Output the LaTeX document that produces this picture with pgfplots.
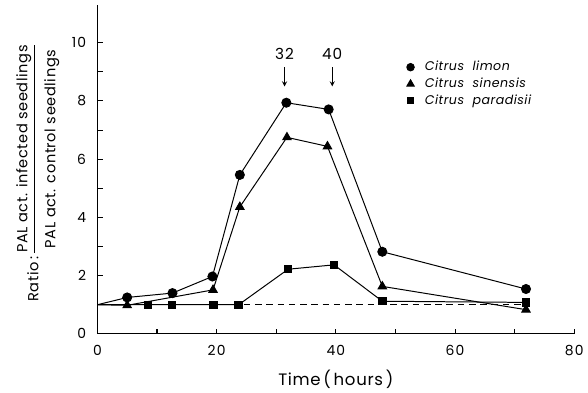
\documentclass[border=0pt]{standalone}
\usepackage{amsmath}
\usepackage{fontspec}
\setmainfont{Poppins}
\usepackage{pgfplots}
\pgfplotsset{compat=1.18}
\begin{document}
\begin{tikzpicture}
\begin{axis}[
  at={(0,0)}, anchor=origin,
  scale only axis, width=360pt, height=248.3pt,
  xmin=0, xmax=80, ymin=0, ymax=11.3,
  axis lines*=left,
  axis line style={line width=0.8pt},
  xtick={0,20,...,80}, minor xtick={10,30,50,70},
  ytick={0,2,...,10}, minor ytick={1,3,5,7,9},
  tick align=inside,
  major tick length=4pt, minor tick length=4pt,
  tick style={line width=0.8pt, black},
  /pgf/number format/assume math mode=true,
  tick label style={font=\fontsize{10.5}{11}\selectfont\addfontfeatures{LetterSpace=8}},
  xticklabel style={yshift=-5pt},
  yticklabel style={xshift=-5pt},
  xlabel={Time\,(\,hours\,)},
  xlabel style={font=\fontsize{12.5}{13}\selectfont\addfontfeatures{LetterSpace=4}, at={(axis description cs:0.5,0)}, anchor=center, yshift=-34pt},
  ylabel={Ratio\,:\,$\dfrac{\rule[-4pt]{0pt}{4pt}\text{PAL act. infected seedlings}}{\rule{0pt}{14pt}\text{PAL act. control seedlings}}$},
  ylabel style={font=\fontsize{11}{13}\selectfont\addfontfeatures{LetterSpace=4}, at={(axis description cs:-0.125,0.49)}, anchor=center},
  legend style={draw=none, fill=none, at={(axis cs:51.2,9.55)}, anchor=north west,
    font=\fontsize{9.5}{10}\selectfont\itshape\addfontfeatures{LetterSpace=4}, row sep=0pt},
  legend cell align=left,
  every axis plot/.append style={black, line width=0.75pt},
]
% dashed baseline
\addplot[dashed, dash pattern=on 5pt off 3.5pt, forget plot] coordinates {(0,1) (72,1)};
% Citrus paradisii (squares)
\addplot[mark=square*, mark size=2.8pt, mark phase=2, forget plot] coordinates {
(0,1) (8.5,1.0) (12.5,1.0) (19.5,1.0) (23.7,1.0) (32,2.22) (39.7,2.37) (47.8,1.12) (71.9,1.08)};
% Citrus sinensis (triangles)
\addplot[mark=triangle*, mark size=3.6pt, mark phase=2, forget plot] coordinates {
(0,1) (5,0.98) (19.4,1.51) (23.9,4.36) (31.8,6.75) (38.6,6.44) (47.8,1.63) (71.9,0.83)};
% Citrus limon (circles)
\addplot[mark=*, mark size=3.4pt, mark phase=2, forget plot] coordinates {
(0,1) (5,1.25) (12.6,1.4) (19.3,1.97) (23.9,5.46) (31.7,7.94) (38.8,7.71) (47.8,2.82) (71.9,1.54)};
\addlegendimage{only marks, mark=*, mark size=2.8pt, black}
\addlegendentry{\hspace{6pt}Citrus\ \ limon}
\addlegendimage{only marks, mark=triangle*, mark size=3.2pt, black}
\addlegendentry{\hspace{6pt}Citrus\ \ sinensis}
\addlegendimage{only marks, mark=square*, mark size=2.3pt, black}
\addlegendentry{\hspace{6pt}Citrus\ \ paradisii}
% arrows
\draw[->, line width=0.7pt, >=stealth] (axis cs:31.4,9.15) -- (axis cs:31.4,8.5);
\draw[->, line width=0.7pt, >=stealth] (axis cs:39.4,9.15) -- (axis cs:39.4,8.5);
\node[font=\fontsize{11.5}{12}\selectfont\addfontfeatures{LetterSpace=6}] at (axis cs:31.4,9.6) {32};
\node[font=\fontsize{11.5}{12}\selectfont\addfontfeatures{LetterSpace=6}] at (axis cs:39.4,9.6) {40};
\end{axis}
\path[use as bounding box] (-73.5pt,-42pt) rectangle (367.5pt,252pt);
\end{tikzpicture}
\end{document}
